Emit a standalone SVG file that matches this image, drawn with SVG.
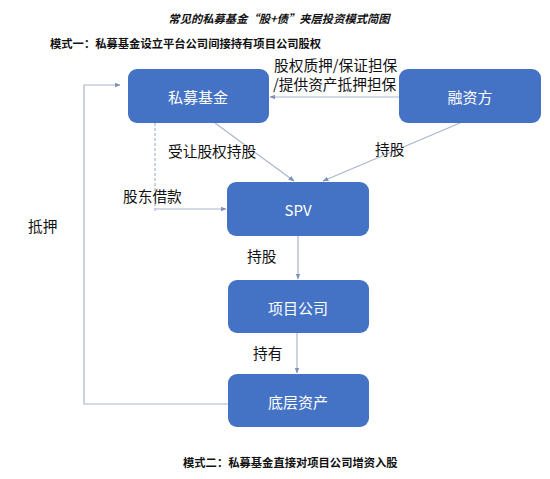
<svg xmlns="http://www.w3.org/2000/svg" width="550" height="479" viewBox="0 0 550 479">
<defs>
<marker id="ah" viewBox="0 0 10 10" refX="9" refY="5" markerWidth="6" markerHeight="6" orient="auto" markerUnits="userSpaceOnUse">
<path d="M0,1 L10,5 L0,9 z" fill="#7f93b8"/>
</marker>
<style>
.box{fill:#4472c4;}
.bt{font-family:"Noto Sans CJK SC","Liberation Sans",sans-serif;font-size:15px;fill:#ffffff;text-anchor:middle;dominant-baseline:central;}
.lbl{font-family:"Noto Sans CJK SC",sans-serif;font-size:14.7px;fill:#111111;dominant-baseline:central;}
.ln{stroke:#a9b6cc;stroke-width:1.2;fill:none;}
.hd{font-family:"Noto Sans CJK SC",sans-serif;font-size:11.3px;font-weight:bold;fill:#111111;dominant-baseline:central;}
</style>
</defs>
<rect width="550" height="479" fill="#ffffff"/>
<text class="hd" x="279" y="18" text-anchor="middle" font-style="italic">常见的私募基金“股+债”夹层投资模式简图</text>
<text class="hd" x="50" y="43">模式一：私募基金设立平台公司间接持有项目公司股权</text>
<g id="connectors">
<line class="ln" x1="399" y1="97" x2="270" y2="97" marker-end="url(#ah)"/>
<line class="ln" x1="215" y1="123" x2="294" y2="181" marker-end="url(#ah)"/>
<line class="ln" x1="460" y1="123" x2="323" y2="181" marker-end="url(#ah)"/>
<line class="ln" x1="155" y1="123" x2="155" y2="212" stroke-dasharray="3,2"/>
<line class="ln" x1="155" y1="209" x2="226" y2="209" marker-end="url(#ah)"/>
<line class="ln" x1="298" y1="236" x2="298" y2="279" marker-end="url(#ah)"/>
<line class="ln" x1="297" y1="333" x2="297" y2="373" marker-end="url(#ah)"/>
<polyline class="ln" points="228,404 84,404 84,85 120,85" marker-end="url(#ah)"/>
<text class="lbl" x="274" y="64">股权质押/保证担保</text>
<text class="lbl" x="273" y="83">/提供资产抵押担保</text>
<text class="lbl" x="168" y="150">受让股权持股</text>
<text class="lbl" x="375" y="148">持股</text>
<text class="lbl" x="123" y="195">股东借款</text>
<text class="lbl" x="247" y="255">持股</text>
<text class="lbl" x="253" y="352">持有</text>
<text class="lbl" x="28" y="225">抵押</text>
</g>
<g id="n1"><rect class="box" x="128" y="69" width="141" height="54" rx="9"/><text class="bt" x="198" y="96">私募基金</text></g>
<g id="n2"><rect class="box" x="399" y="69" width="142" height="54" rx="9"/><text class="bt" x="470" y="96">融资方</text></g>
<g id="n3"><rect class="box" x="227" y="182" width="142" height="54" rx="9"/><text class="bt" x="298" y="209">SPV</text></g>
<g id="n4"><rect class="box" x="228" y="280" width="141" height="53" rx="9"/><text class="bt" x="298" y="307">项目公司</text></g>
<g id="n5"><rect class="box" x="228" y="374" width="141" height="53" rx="9"/><text class="bt" x="298" y="401">底层资产</text></g>
<text class="hd" x="183" y="462">模式二：私募基金直接对项目公司增资入股</text>
</svg>
